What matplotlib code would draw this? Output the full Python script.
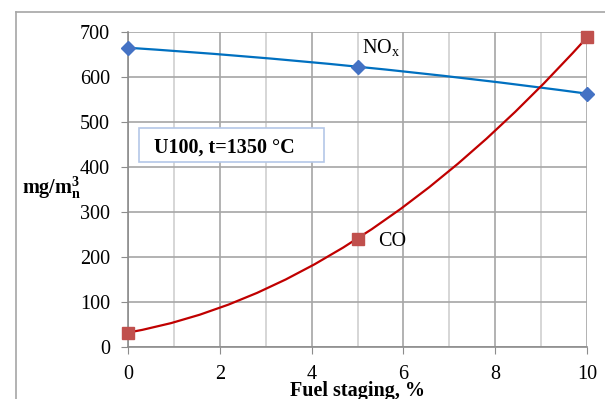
import numpy as np
import matplotlib
matplotlib.use("Agg")
import matplotlib.pyplot as plt
from matplotlib.path import Path
from matplotlib.patches import PathPatch, Rectangle
from matplotlib.lines import Line2D

plt.rcParams['font.family'] = 'Liberation Serif'
plt.rcParams['mathtext.fontset'] = 'custom'
plt.rcParams['mathtext.rm'] = 'Liberation Serif'
plt.rcParams['mathtext.it'] = 'Liberation Serif:italic'
plt.rcParams['mathtext.bf'] = 'Liberation Serif:bold'

# data
staging = [0, 5, 10]
nox = [665, 623, 563]
co = [32, 241, 688]
x_ticks = [0, 2, 4, 6, 8, 10]
y_ticks = [0, 100, 200, 300, 400, 500, 600, 700]

FS = 14.5


def smooth_path(xs, ys):
    # quadratic bezier through the three measured points (Excel-like smoothed line)
    cy = 2 * ys[1] - (ys[0] + ys[2]) / 2
    cx = 2 * xs[1] - (xs[0] + xs[2]) / 2
    verts = [(xs[0], ys[0]), (cx, cy), (xs[2], ys[2])]
    return Path(verts, [Path.MOVETO, Path.CURVE3, Path.CURVE3])


fig = plt.figure(figsize=(6.05, 3.99), dpi=100)
ax = fig.add_axes([128 / 605, 1 - 347 / 399, (587 - 128) / 605, (347 - 32) / 399])

ax.set_xlim(0, 10)
ax.set_ylim(0, 700)
ax.set_xticks(x_ticks)
ax.set_yticks(y_ticks)
ax.set_xticks(range(0, 11), minor=True)
ax.grid(which='major', color='#a6a6a6', linewidth=1.2)
ax.grid(which='minor', axis='x', color='#d0d0d0', linewidth=1.2)
ax.set_axisbelow(True)
for s in ['top', 'right']:
    ax.spines[s].set_visible(False)
for s in ['left', 'bottom']:
    ax.spines[s].set_color('#8c8c8c')
    ax.spines[s].set_linewidth(1.2)
ax.tick_params(which='major', direction='out', length=5, color='#8c8c8c',
               labelsize=FS)
ax.tick_params(axis='x', pad=8)
ax.tick_params(axis='y', pad=8)
ax.tick_params(which='minor', length=0)

ax.add_patch(PathPatch(smooth_path(staging, nox), fill=False, edgecolor='#0070C0',
                       linewidth=1.6, zorder=3))
ax.add_patch(PathPatch(smooth_path(staging, co), fill=False, edgecolor='#C00000',
                       linewidth=1.6, zorder=3))
ax.plot(staging, nox, linestyle='none', marker='D', markersize=7,
        color='#4472C4', zorder=4, clip_on=False)
ax.plot(staging, co, linestyle='none', marker='s', markersize=8,
        color='#C0504D', zorder=4, clip_on=False)

ax.text(5.1, 666, r'NO$_\mathrm{x}$', fontsize=FS, va='center', ha='left')
ax.text(5.45, 235, 'CO', fontsize=FS, va='center', ha='left')

ax.set_xlabel('Fuel staging, %', fontsize=FS, fontweight='bold', labelpad=-2)

fig.text(22 / 605, 1 - 188 / 399, r'mg/m$_\mathbf{n}^\mathbf{3}$', fontsize=FS,
         fontweight='bold', va='center', ha='left')

# annotation box
fig.patches.append(Rectangle((139 / 605, 1 - 162 / 399), (324 - 139) / 605, 34 / 399,
                             transform=fig.transFigure, facecolor='white',
                             edgecolor='#b4c7e7', linewidth=1.2, zorder=5))
fig.text(154 / 605, 1 - 148 / 399, 'U100, t=1350 °C', fontsize=FS, fontweight='bold',
         va='center', ha='left', zorder=6)

# outer chart frame (cropped)
fig.add_artist(Line2D([16 / 605, 16 / 605], [0, 1 - 12 / 399], color='#a6a6a6',
                      linewidth=1.2, transform=fig.transFigure))
fig.add_artist(Line2D([16 / 605, 1], [1 - 12 / 399, 1 - 12 / 399], color='#a6a6a6',
                      linewidth=1.2, transform=fig.transFigure))

fig.savefig('out.png', dpi=100)
